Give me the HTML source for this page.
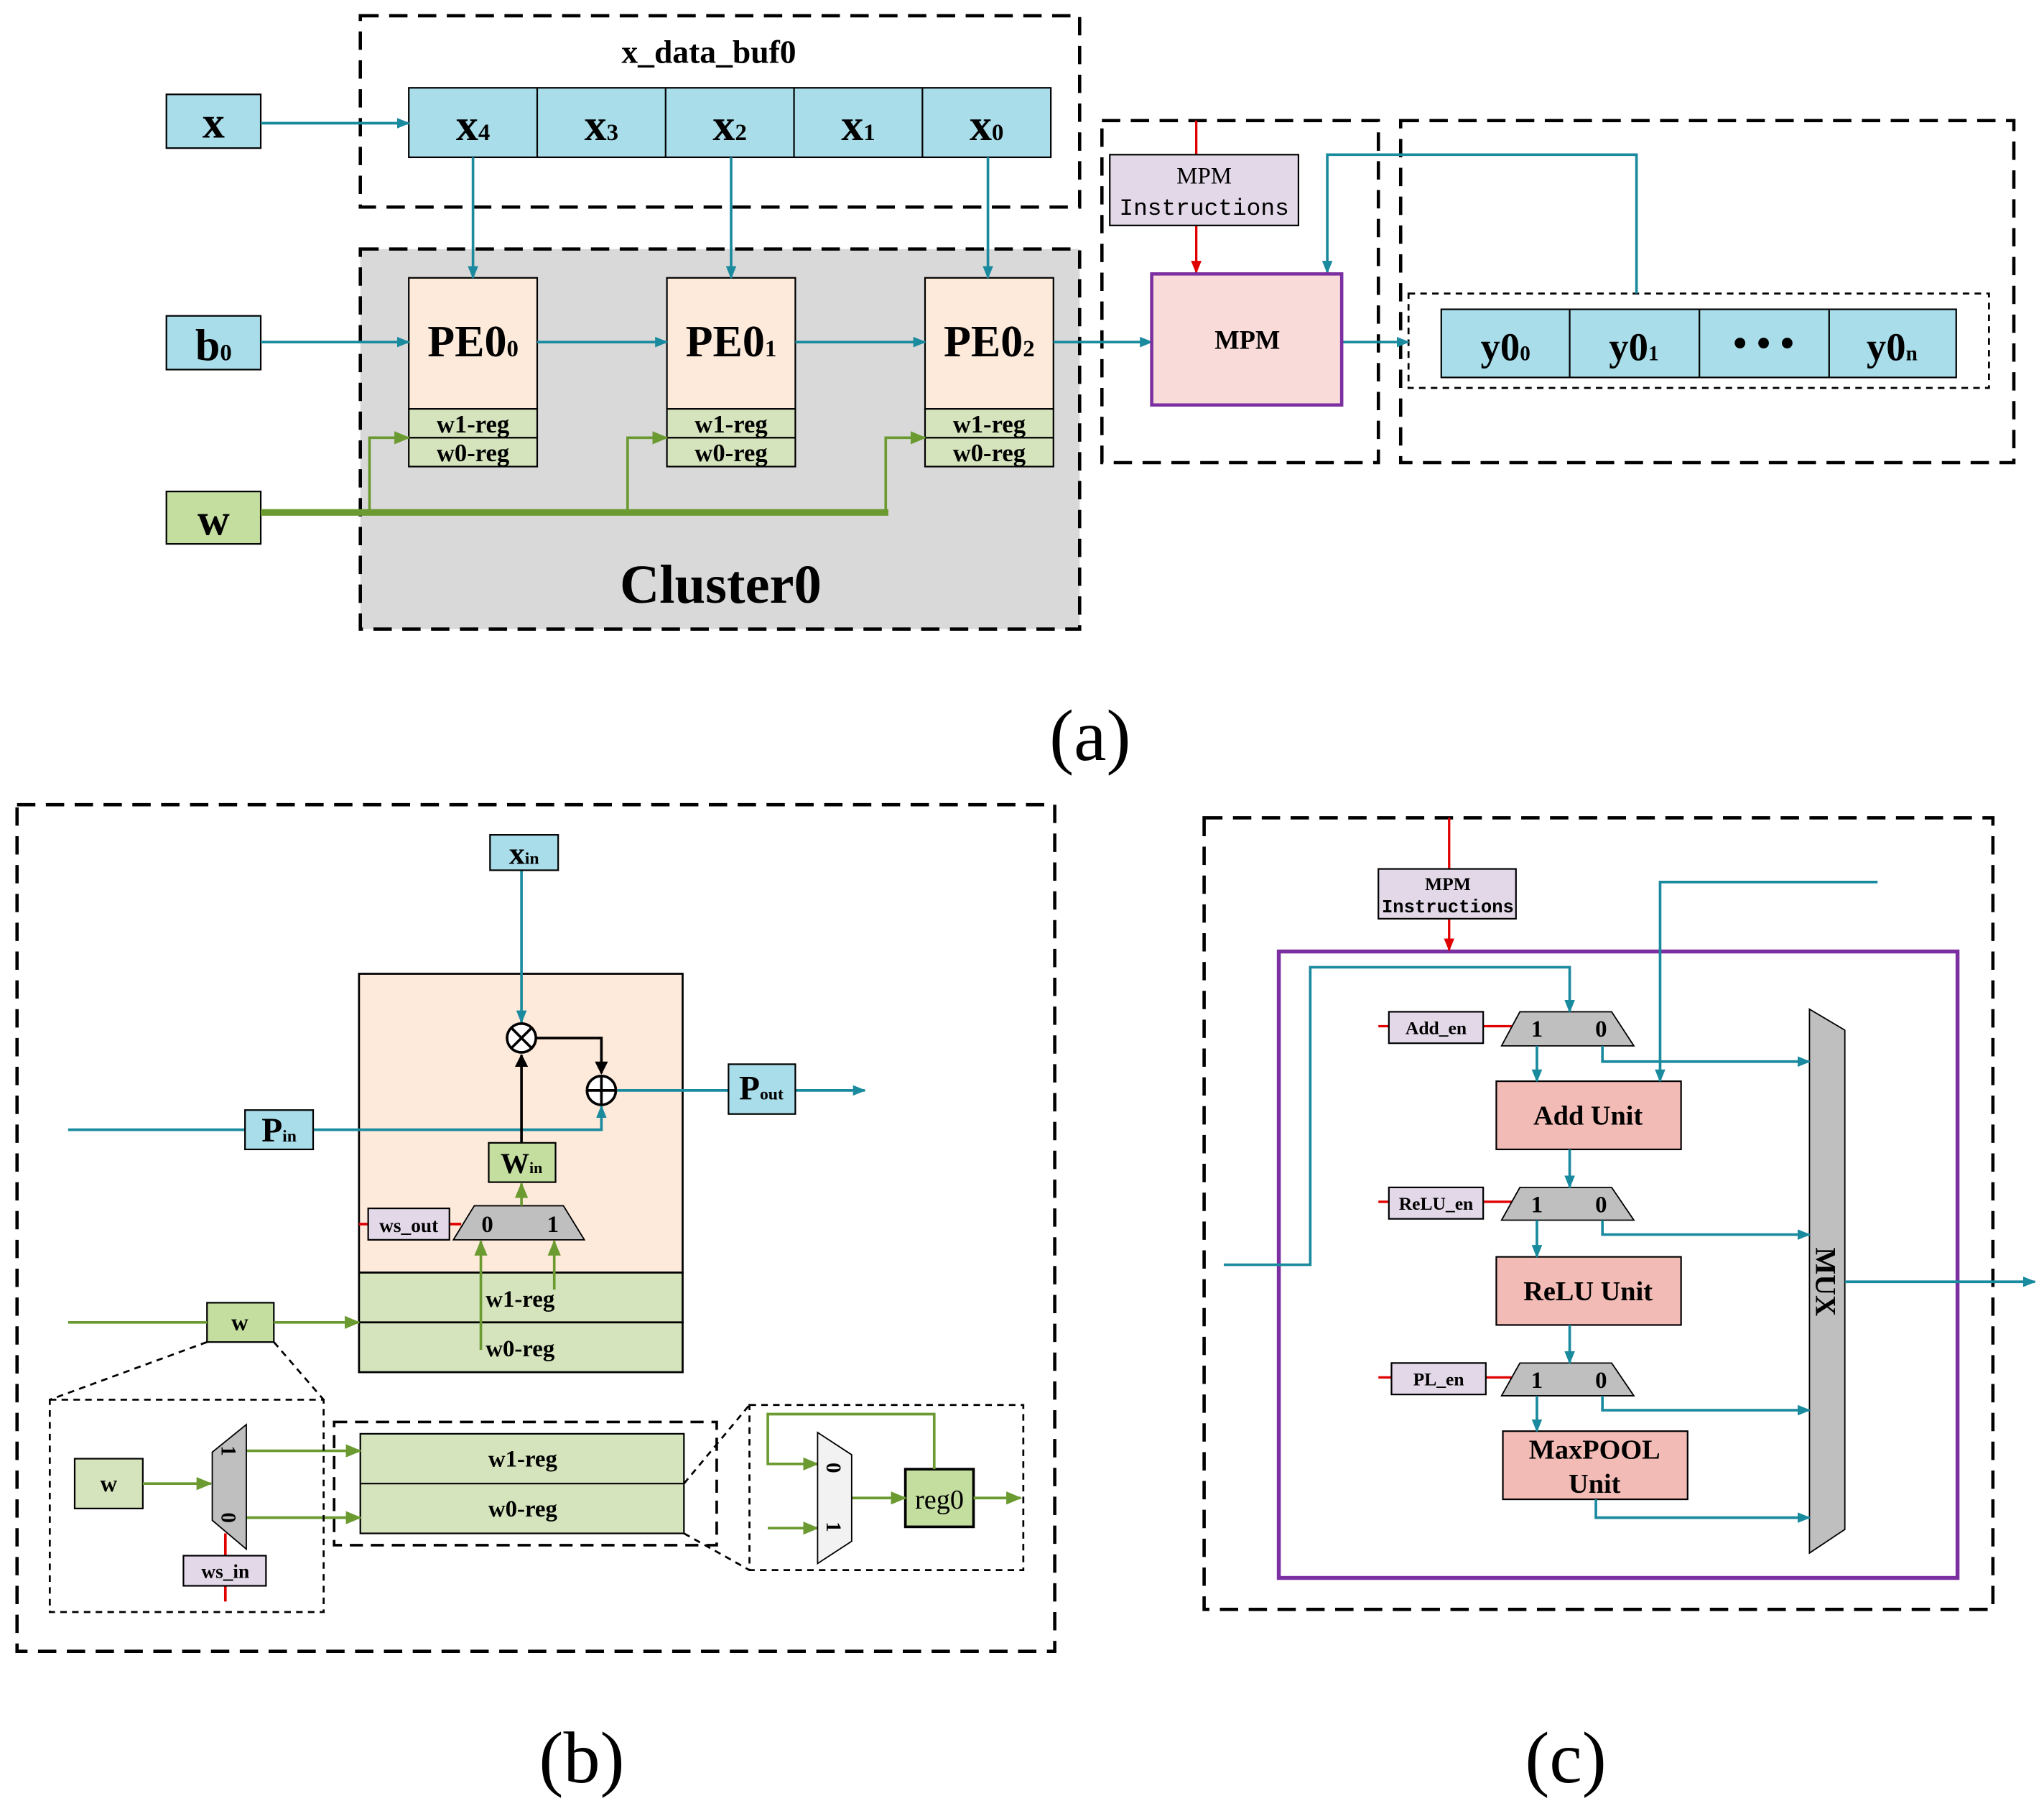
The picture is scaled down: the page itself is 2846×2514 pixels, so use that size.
<!DOCTYPE html>
<html><head><meta charset="utf-8"><style>html,body{margin:0;padding:0;background:#fff}svg{display:block}</style></head><body>
<svg width="2846" height="2514" viewBox="0 0 1560 1378" xmlns="http://www.w3.org/2000/svg" font-family="'Liberation Serif', serif">
<defs>
<marker id="at" markerWidth="10" markerHeight="8" refX="9" refY="4" orient="auto" markerUnits="userSpaceOnUse"><path d="M0,0L10,4L0,8z" fill="#1a8a9e"/></marker>
<marker id="ag" markerWidth="12" markerHeight="10" refX="11" refY="5" orient="auto" markerUnits="userSpaceOnUse"><path d="M0,0L12,5L0,10z" fill="#6a9a30"/></marker>
<marker id="ar" markerWidth="10" markerHeight="8" refX="9" refY="4" orient="auto" markerUnits="userSpaceOnUse"><path d="M0,0L10,4L0,8z" fill="#e00000"/></marker>
<marker id="ak" markerWidth="10" markerHeight="10" refX="9" refY="5" orient="auto" markerUnits="userSpaceOnUse"><path d="M0,0L10,5L0,10z" fill="#000"/></marker>
</defs>
<rect width="1560" height="1378" fill="#fff"/>
<g fill="none" stroke="#000" stroke-width="2.5" stroke-dasharray="14,8">
<rect x="275" y="12" width="549" height="146"/>
<rect x="275" y="190" width="549" height="290" fill="#d9d9d9"/>
<rect x="841" y="92" width="211" height="261"/>
<rect x="1069" y="92" width="468" height="261"/>
<rect x="13" y="614" width="792" height="646"/>
<rect x="919" y="624" width="602" height="604"/>
</g>
<rect x="1075" y="224" width="443" height="72" fill="none" stroke="#000" stroke-width="1.5" stroke-dasharray="5,4"/>
<text x="541" y="48" font-size="25" font-weight="bold" text-anchor="middle">x_data_buf0</text>
<g stroke="#000" stroke-width="1.2" fill="#a8dde9">
<rect x="312" y="67" width="490" height="53"/>
<line x1="410" y1="67" x2="410" y2="120"/><line x1="508" y1="67" x2="508" y2="120"/><line x1="606" y1="67" x2="606" y2="120"/><line x1="704" y1="67" x2="704" y2="120"/>
<rect x="127" y="72" width="72" height="41"/>
<rect x="127" y="241" width="72" height="41"/>
<rect x="1100" y="236" width="393" height="52"/>
<line x1="1198" y1="236" x2="1198" y2="288"/><line x1="1297" y1="236" x2="1297" y2="288"/><line x1="1396" y1="236" x2="1396" y2="288"/>
</g>
<rect x="127" y="375" width="72" height="40" fill="#c4dea0" stroke="#000" stroke-width="1.2"/>
<g font-weight="bold" font-size="34" text-anchor="middle">
<text x="361" y="107">x<tspan font-size="18">4</tspan></text>
<text x="459" y="107">x<tspan font-size="18">3</tspan></text>
<text x="557" y="107">x<tspan font-size="18">2</tspan></text>
<text x="655" y="107">x<tspan font-size="18">1</tspan></text>
<text x="753" y="107">x<tspan font-size="18">0</tspan></text>
<text x="163" y="105">x</text>
<text x="163" y="275">b<tspan font-size="18">0</tspan></text>
<text x="163" y="408">w</text>
<text x="1149" y="275" font-size="30">y0<tspan font-size="16">0</tspan></text>
<text x="1247" y="275" font-size="30">y0<tspan font-size="16">1</tspan></text>
<text x="1346" y="272" font-size="30">• • •</text>
<text x="1444" y="275" font-size="30">y0<tspan font-size="16">n</tspan></text>
</g>
<g stroke="#000" stroke-width="1.2">
<rect x="312" y="212" width="98" height="100" fill="#fdeadb"/><rect x="312" y="312" width="98" height="22" fill="#d5e4bd"/><rect x="312" y="334" width="98" height="22" fill="#d5e4bd"/>
<rect x="509" y="212" width="98" height="100" fill="#fdeadb"/><rect x="509" y="312" width="98" height="22" fill="#d5e4bd"/><rect x="509" y="334" width="98" height="22" fill="#d5e4bd"/>
<rect x="706" y="212" width="98" height="100" fill="#fdeadb"/><rect x="706" y="312" width="98" height="22" fill="#d5e4bd"/><rect x="706" y="334" width="98" height="22" fill="#d5e4bd"/>
</g>
<g font-weight="bold" text-anchor="middle">
<text x="361" y="272" font-size="34">PE0<tspan font-size="18">0</tspan></text>
<text x="558" y="272" font-size="34">PE0<tspan font-size="18">1</tspan></text>
<text x="755" y="272" font-size="34">PE0<tspan font-size="18">2</tspan></text>
<g font-size="19"><text x="361" y="330">w1-reg</text><text x="361" y="352">w0-reg</text><text x="558" y="330">w1-reg</text><text x="558" y="352">w0-reg</text><text x="755" y="330">w1-reg</text><text x="755" y="352">w0-reg</text></g>
<text x="550" y="460" font-size="42">Cluster0</text>
</g>
<g stroke="#1a8a9e" stroke-width="2" fill="none" marker-end="url(#at)">
<line x1="199" y1="94" x2="312" y2="94"/>
<line x1="361" y1="120" x2="361" y2="212"/><line x1="558" y1="120" x2="558" y2="212"/><line x1="754" y1="120" x2="754" y2="212"/>
<line x1="199" y1="261" x2="312" y2="261"/><line x1="410" y1="261" x2="509" y2="261"/><line x1="607" y1="261" x2="706" y2="261"/><line x1="804" y1="261" x2="879" y2="261"/>
<line x1="1024" y1="261" x2="1075" y2="261"/>
<polyline points="1249,224 1249,118 1013,118 1013,208"/>
</g>
<line x1="199" y1="391" x2="678" y2="391" stroke="#6a9a30" stroke-width="5"/>
<g stroke="#6a9a30" stroke-width="2" fill="none" marker-end="url(#ag)">
<polyline points="282,391 282,334 312,334"/><polyline points="479,391 479,334 509,334"/><polyline points="676,391 676,334 706,334"/>
</g>
<g stroke="#e00000" stroke-width="1.8" fill="none">
<line x1="913" y1="92" x2="913" y2="118"/><line x1="913" y1="172" x2="913" y2="208" marker-end="url(#ar)"/>
</g>
<rect x="847" y="118" width="144" height="54" fill="#e2d8e8" stroke="#000" stroke-width="1.2"/>
<text x="919" y="140" font-size="18" text-anchor="middle">MPM</text>
<text x="919" y="164" font-size="18" text-anchor="middle" font-family="'Liberation Mono', monospace">Instructions</text>
<rect x="879" y="209" width="145" height="100" fill="#f9dcda" stroke="#7b2fa0" stroke-width="2.5"/>
<text x="952" y="266" font-size="20" font-weight="bold" text-anchor="middle">MPM</text>
<text x="832" y="580" font-size="56" text-anchor="middle">(a)</text>

<!-- (b) -->
<rect x="274" y="743" width="247" height="228" fill="#fdeadb" stroke="#000" stroke-width="1.5"/>
<rect x="274" y="971" width="247" height="38" fill="#d5e4bd" stroke="#000" stroke-width="1.5"/>
<rect x="274" y="1009" width="247" height="38" fill="#d5e4bd" stroke="#000" stroke-width="1.5"/>
<g stroke="#1a8a9e" stroke-width="2" fill="none">
<line x1="398" y1="664" x2="398" y2="780" marker-end="url(#at)"/>
<line x1="52" y1="862" x2="187" y2="862"/>
<polyline points="239,862 459,862 459,844" marker-end="url(#at)"/>
<line x1="471" y1="832" x2="556" y2="832"/>
<line x1="607" y1="832" x2="660" y2="832" marker-end="url(#at)"/>
</g>
<g stroke="#000" stroke-width="2" fill="none">
<polyline points="409,792 459,792 459,819" marker-end="url(#ak)"/>
<line x1="398" y1="872" x2="398" y2="805" marker-end="url(#ak)"/>
<circle cx="398" cy="792" r="11" fill="#fff"/><line x1="390" y1="784" x2="406" y2="800"/><line x1="406" y1="784" x2="390" y2="800"/>
<circle cx="459" cy="832" r="11" fill="#fff"/><line x1="448" y1="832" x2="470" y2="832"/><line x1="459" y1="821" x2="459" y2="843"/>
</g>
<g stroke="#000" stroke-width="1.2">
<rect x="374" y="637" width="52" height="27" fill="#a8dde9"/>
<rect x="187" y="847" width="52" height="30" fill="#a8dde9"/>
<rect x="556" y="812" width="51" height="38" fill="#a8dde9"/>
<rect x="373" y="872" width="51" height="30" fill="#c4dea0"/>
<rect x="158" y="994" width="51" height="30" fill="#c4dea0"/>
<rect x="57" y="1113" width="52" height="38" fill="#d5e4bd"/>
<rect x="275" y="1094" width="247" height="76" fill="#d5e4bd"/><line x1="275" y1="1132" x2="522" y2="1132"/>
<rect x="691" y="1121" width="52" height="44" fill="#c4dea0" stroke-width="2"/>
</g>
<g font-weight="bold" text-anchor="middle">
<text x="400" y="659" font-size="24">x<tspan font-size="13">in</tspan></text>
<text x="213" y="871" font-size="26">P<tspan font-size="13">in</tspan></text>
<text x="581" y="839" font-size="26">P<tspan font-size="13">out</tspan></text>
<text x="398" y="895" font-size="22">W<tspan font-size="12">in</tspan></text>
<text x="183" y="1015" font-size="18">w</text>
<text x="83" y="1138" font-size="18">w</text>
<text x="397" y="997" font-size="18">w1-reg</text><text x="397" y="1035" font-size="18">w0-reg</text>
<text x="399" y="1119" font-size="18">w1-reg</text><text x="399" y="1157" font-size="18">w0-reg</text>
</g>
<text x="717" y="1151" font-size="21" text-anchor="middle">reg0</text>
<g stroke="#e00000" stroke-width="2"><line x1="274" y1="934" x2="281" y2="934"/><line x1="343" y1="934" x2="352" y2="934"/><line x1="172" y1="1170" x2="172" y2="1222"/></g>
<polygon points="362,920 430,920 446,946 346,946" fill="#bfbfbf" stroke="#000" stroke-width="1"/>
<text x="372" y="940" font-size="18" font-weight="bold" text-anchor="middle">0</text>
<text x="422" y="940" font-size="18" font-weight="bold" text-anchor="middle">1</text>
<rect x="281" y="922" width="62" height="24" fill="#e2d8e8" stroke="#000" stroke-width="1.2"/>
<text x="312" y="940" font-size="15" font-weight="bold" text-anchor="middle">ws_out</text>
<g stroke="#6a9a30" stroke-width="2" fill="none" marker-end="url(#ag)">
<line x1="398" y1="920" x2="398" y2="903"/>
<line x1="367" y1="1030" x2="367" y2="947"/><line x1="423" y1="984" x2="423" y2="947"/>
<line x1="209" y1="1009" x2="274" y2="1009"/>
<line x1="109" y1="1132" x2="161" y2="1132"/>
<line x1="188" y1="1107" x2="275" y2="1107"/><line x1="188" y1="1158" x2="275" y2="1158"/>
<line x1="650" y1="1143" x2="691" y2="1143"/><line x1="743" y1="1143" x2="779" y2="1143"/>
<polyline points="713,1121 713,1079 586,1079 586,1117 624,1117"/>
<line x1="586" y1="1166" x2="624" y2="1166"/>
</g>
<line x1="52" y1="1009" x2="158" y2="1009" stroke="#6a9a30" stroke-width="2"/>
<g fill="none" stroke="#000" stroke-width="1.5" stroke-dasharray="5,4">
<rect x="38" y="1068" width="209" height="162"/>
<rect x="572" y="1072" width="209" height="126"/>
<line x1="158" y1="1024" x2="38" y2="1068"/><line x1="209" y1="1024" x2="247" y2="1068"/>
<line x1="522" y1="1132" x2="572" y2="1072"/><line x1="522" y1="1170" x2="572" y2="1198"/>
</g>
<rect x="255" y="1085" width="292" height="94" fill="none" stroke="#000" stroke-width="2" stroke-dasharray="10,6"/>
<polygon points="162,1108 188,1087 188,1182 162,1160" fill="#bfbfbf" stroke="#000" stroke-width="1"/>
<text transform="translate(175,1107) rotate(90)" font-size="16" font-weight="bold" text-anchor="middle" dy="6">1</text>
<text transform="translate(175,1158) rotate(90)" font-size="16" font-weight="bold" text-anchor="middle" dy="6">0</text>
<rect x="140" y="1187" width="63" height="23" fill="#e2d8e8" stroke="#000" stroke-width="1.2"/>
<text x="172" y="1204" font-size="15" font-weight="bold" text-anchor="middle">ws_in</text>
<polygon points="624,1093 650,1110 650,1176 624,1193" fill="#f2f2f2" stroke="#000" stroke-width="1"/>
<text transform="translate(637,1120) rotate(90)" font-size="16" font-weight="bold" text-anchor="middle" dy="6">0</text>
<text transform="translate(637,1165) rotate(90)" font-size="16" font-weight="bold" text-anchor="middle" dy="6">1</text>
<text x="444" y="1360" font-size="56" text-anchor="middle">(b)</text>

<!-- (c) -->
<rect x="976" y="726" width="518" height="478" fill="none" stroke="#7b2fa0" stroke-width="3"/>
<g stroke="#e00000" stroke-width="1.8" fill="none">
<line x1="1106" y1="624" x2="1106" y2="663"/><line x1="1106" y1="701" x2="1106" y2="725" marker-end="url(#ar)"/>
<line x1="1052" y1="783" x2="1160" y2="783"/><line x1="1052" y1="917" x2="1160" y2="917"/><line x1="1052" y1="1051" x2="1160" y2="1051"/>
</g>
<rect x="1052" y="663" width="105" height="38" fill="#e2d8e8" stroke="#000" stroke-width="1.2"/>
<text x="1105" y="679" font-size="14" font-weight="bold" text-anchor="middle">MPM</text>
<text x="1105" y="696" font-size="14" font-weight="bold" text-anchor="middle" font-family="'Liberation Mono', monospace">Instructions</text>
<g stroke="#000" stroke-width="1.2">
<rect x="1060" y="772" width="72" height="24" fill="#e2d8e8"/>
<rect x="1060" y="906" width="72" height="24" fill="#e2d8e8"/>
<rect x="1062" y="1040" width="72" height="24" fill="#e2d8e8"/>
<rect x="1142" y="825" width="141" height="52" fill="#f2bbb5"/>
<rect x="1142" y="959" width="141" height="52" fill="#f2bbb5"/>
<rect x="1147" y="1092" width="141" height="52" fill="#f2bbb5"/>
</g>
<g font-weight="bold" text-anchor="middle">
<text x="1096" y="789" font-size="14">Add_en</text>
<text x="1096" y="923" font-size="14">ReLU_en</text>
<text x="1098" y="1057" font-size="14">PL_en</text>
<text x="1212" y="858" font-size="21">Add Unit</text>
<text x="1212" y="992" font-size="21">ReLU Unit</text>
<text x="1217" y="1113" font-size="21">MaxPOOL</text>
<text x="1217" y="1139" font-size="21">Unit</text>
</g>
<g fill="#bfbfbf" stroke="#000" stroke-width="1">
<polygon points="1160,772 1230,772 1247,798 1146,798"/>
<polygon points="1160,906 1230,906 1247,931 1146,931"/>
<polygon points="1160,1040 1230,1040 1247,1065 1146,1065"/>
<polygon points="1381,770 1408,786 1408,1167 1381,1185"/>
</g>
<g font-weight="bold" font-size="18" text-anchor="middle">
<text x="1173" y="791">1</text><text x="1222" y="791">0</text>
<text x="1173" y="925">1</text><text x="1222" y="925">0</text>
<text x="1173" y="1059">1</text><text x="1222" y="1059">0</text>
</g>
<text transform="translate(1394,978) rotate(90)" font-size="22" font-weight="bold" text-anchor="middle" dy="8">MUX</text>
<g stroke="#1a8a9e" stroke-width="2" fill="none" marker-end="url(#at)">
<polyline points="934,965 1000,965 1000,738 1198,738 1198,772"/>
<polyline points="1433,673 1267,673 1267,825"/>
<line x1="1173" y1="798" x2="1173" y2="825"/>
<polyline points="1223,798 1223,810 1381,810"/>
<line x1="1198" y1="877" x2="1198" y2="906"/>
<line x1="1173" y1="931" x2="1173" y2="959"/>
<polyline points="1223,931 1223,942 1381,942"/>
<line x1="1198" y1="1011" x2="1198" y2="1040"/>
<line x1="1173" y1="1065" x2="1173" y2="1092"/>
<polyline points="1223,1065 1223,1076 1381,1076"/>
<polyline points="1218,1144 1218,1158 1381,1158"/>
<line x1="1408" y1="978" x2="1553" y2="978"/>
</g>
<text x="1195" y="1360" font-size="56" text-anchor="middle">(c)</text>
</svg>
</body></html>
